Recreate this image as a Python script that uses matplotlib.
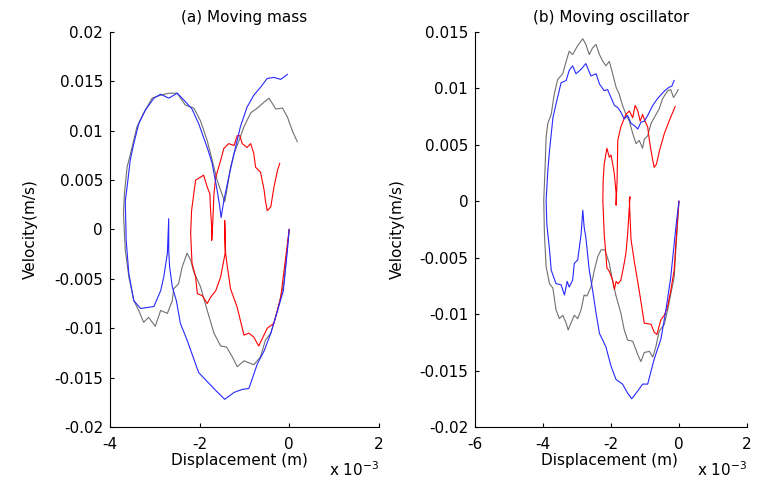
import matplotlib
matplotlib.use('Agg')
import matplotlib.pyplot as plt
import numpy as np

plt.rcParams['font.family'] = ['DejaVu Sans']
plt.rcParams['axes.unicode_minus'] = False

# displacement in 1e-3 m, velocity in 1e-3 m/s
# (a) moving mass
a_blue_x = [0, -0.04, -0.13, -0.26, -0.41, -0.56, -0.71, -0.90, -1.05, -1.23, -1.44, -1.64, -1.83, -2.02,
            -2.17, -2.28, -2.43, -2.52, -2.61, -2.67, -2.69, -2.69, -2.72, -2.80, -2.87, -3.02, -3.32, -3.47,
            -3.58, -3.64, -3.66, -3.62, -3.55, -3.47, -3.36, -3.21, -3.02, -2.87, -2.69, -2.50, -2.35, -2.17,
            -2.02, -1.83, -1.72, -1.61, -1.55, -1.52, -1.46, -1.35, -1.23, -1.09, -0.94, -0.79, -0.64, -0.49,
            -0.34, -0.19, -0.04]
a_blue_v = [0, -2.1, -6.2, -8.2, -10.5, -12.3, -13.6, -16.1, -16.2, -16.5, -17.2, -16.3, -15.4, -14.5,
            -12.6, -11.2, -9.5, -7.2, -5.8, -3.8, -2.1, 1.1, -2.4, -4.8, -6.2, -7.8, -8.0, -7.2,
            -4.5, -1.1, 2.9, 4.3, 7.0, 8.7, 10.7, 12.1, 13.3, 13.7, 13.3, 13.8, 13.1, 12.2,
            10.7, 8.3, 6.7, 4.0, 2.3, 1.2, 2.9, 5.3, 7.7, 10.4, 12.4, 13.6, 14.4, 15.3,
            15.4, 15.2, 15.7]

a_gray_x = [0, -0.12, -0.26, -0.41, -0.53, -0.64, -0.79, -1.01, -1.16, -1.27, -1.40, -1.53, -1.68, -1.83,
            -1.98, -2.13, -2.20, -2.28, -2.39, -2.47, -2.58, -2.61, -2.72, -2.87, -2.99, -3.14, -3.25, -3.36,
            -3.47, -3.58, -3.66, -3.70, -3.68, -3.62, -3.51, -3.40, -3.25, -3.06, -2.87, -2.69, -2.50, -2.32,
            -2.13, -1.98, -1.83, -1.68, -1.61, -1.44, -1.38, -1.31, -1.23, -1.12, -1.01, -0.86, -0.71, -0.56,
            -0.45, -0.30, -0.15, -0.04, 0.07, 0.18]
a_gray_v = [0, -5.5, -8.2, -10.5, -11.2, -12.9, -13.7, -13.3, -13.9, -12.9, -11.9, -11.8, -10.5, -8.2,
            -5.8, -4.3, -3.1, -2.4, -3.8, -5.5, -6.0, -7.2, -8.5, -8.2, -9.8, -8.9, -9.4, -8.2,
            -7.2, -4.8, -2.1, 1.6, 3.6, 6.3, 8.3, 10.4, 11.8, 13.3, 13.6, 13.8, 13.8, 12.6,
            12.3, 11.0, 9.0, 6.3, 5.0, 2.8, 4.3, 6.3, 7.7, 9.0, 10.4, 11.8, 12.3, 12.9,
            13.3, 12.2, 12.3, 11.4, 10.0, 8.9]

a_red_x = [0, -0.19, -0.34, -0.49, -0.68, -0.79, -0.90, -1.01, -1.16, -1.31, -1.38, -1.42, -1.44, -1.43,
           -1.53, -1.64, -1.76, -1.83, -1.94, -2.05, -2.09, -2.17, -2.20, -2.18, -2.09, -1.98, -1.91, -1.83,
           -1.77, -1.76, -1.73, -1.73, -1.71, -1.68, -1.64, -1.53, -1.46, -1.35, -1.23, -1.16, -1.10, -1.05,
           -0.94, -0.86, -0.79, -0.75, -0.64, -0.56, -0.53, -0.49, -0.41, -0.34, -0.26, -0.21]
a_red_v = [0, -6.9, -9.5, -10.0, -11.8, -10.9, -10.5, -10.7, -7.9, -6.0, -3.8, -2.4, 0.9, -2.4,
           -4.8, -6.2, -6.9, -7.5, -6.7, -6.5, -4.8, -3.4, -0.4, 1.9, 5.0, 5.3, 5.5, 4.3,
           3.6, 2.3, 0.2, -1.1, 0.4, 3.6, 5.3, 7.0, 8.2, 8.7, 8.5, 9.5, 9.5, 8.7,
           8.3, 8.7, 7.7, 6.3, 5.8, 4.0, 2.9, 1.9, 2.3, 4.3, 6.0, 6.7]

# (b) moving oscillator
b_blue_x = [0, -0.09, -0.24, -0.38, -0.53, -0.73, -0.92, -1.07, -1.21, -1.39, -1.51, -1.66, -1.85, -2.00,
            -2.15, -2.34, -2.44, -2.54, -2.64, -2.74, -2.79, -2.83, -2.88, -2.98, -3.08, -3.13, -3.23, -3.29,
            -3.37, -3.47, -3.62, -3.76, -3.81, -3.89, -3.91, -3.86, -3.81, -3.71, -3.62, -3.47, -3.32, -3.23,
            -3.13, -3.03, -2.88, -2.74, -2.59, -2.44, -2.34, -2.20, -2.10, -2.00, -1.90, -1.80, -1.71, -1.61,
            -1.51, -1.41, -1.31, -1.21, -1.12, -1.02, -0.92, -0.77, -0.63, -0.48, -0.38, -0.29, -0.21, -0.14]
b_blue_v = [0, -2.3, -6.7, -9.6, -12.2, -14.0, -16.2, -16.2, -16.8, -17.5, -17.0, -16.2, -15.8, -14.6,
            -12.9, -11.7, -9.9, -7.9, -6.1, -3.2, -2.3, -0.8, -2.9, -5.2, -5.5, -7.0, -7.6, -7.1,
            -8.3, -7.4, -7.3, -6.1, -4.3, -2.0, 0.1, 2.7, 4.5, 7.4, 8.6, 10.5, 10.7, 11.6,
            12.0, 11.3, 11.7, 12.2, 11.1, 11.3, 10.4, 9.8, 9.9, 9.2, 8.5, 8.3, 7.9, 7.3,
            7.6, 6.9, 6.7, 6.4, 7.0, 7.1, 7.6, 8.5, 9.1, 9.6, 9.9, 10.1, 10.2, 10.7]

b_gray_x = [0, -0.14, -0.33, -0.43, -0.58, -0.68, -0.77, -0.87, -1.02, -1.12, -1.21, -1.36, -1.51, -1.61,
            -1.71, -1.85, -1.95, -2.05, -2.18, -2.29, -2.39, -2.49, -2.59, -2.71, -2.79, -2.88, -2.98, -3.08,
            -3.18, -3.26, -3.32, -3.42, -3.52, -3.62, -3.71, -3.81, -3.91, -3.96, -3.98, -3.94, -3.91, -3.86,
            -3.76, -3.67, -3.57, -3.42, -3.32, -3.23, -3.13, -2.98, -2.83, -2.74, -2.64, -2.54, -2.44, -2.34,
            -2.24, -2.15, -2.05, -1.95, -1.85, -1.76, -1.66, -1.56, -1.46, -1.36, -1.26, -1.17, -1.07, -1.02,
            -0.92, -0.82, -0.73, -0.58, -0.48, -0.33, -0.24, -0.16, -0.09, -0.02]
b_gray_v = [0, -6.7, -9.6, -10.9, -11.5, -12.9, -13.8, -13.3, -13.4, -14.2, -13.6, -12.4, -12.3, -11.4,
            -9.9, -8.4, -7.1, -5.5, -4.3, -4.3, -4.9, -6.1, -7.6, -8.4, -8.3, -9.6, -10.4, -10.1,
            -10.8, -11.4, -10.8, -10.1, -10.4, -9.6, -7.7, -7.3, -5.8, -2.9, 0.1, 3.0, 5.7, 6.9,
            7.7, 9.5, 10.8, 11.3, 12.4, 13.3, 13.0, 13.8, 14.4, 13.9, 13.0, 13.6, 13.9, 13.0,
            12.4, 12.0, 12.4, 11.3, 10.1, 9.5, 8.5, 7.7, 7.1, 6.0, 5.1, 5.4, 4.7, 5.5,
            5.8, 6.9, 7.4, 8.2, 9.1, 9.8, 9.9, 9.2, 9.5, 9.9]

b_red_x = [0, -0.09, -0.14, -0.24, -0.33, -0.43, -0.53, -0.65, -0.73, -0.82, -1.02, -1.17, -1.31, -1.41,
           -1.46, -1.44, -1.51, -1.56, -1.63, -1.71, -1.79, -1.85, -1.90, -1.95, -2.05, -2.12, -2.20, -2.24,
           -2.23, -2.20, -2.12, -2.05, -2.00, -1.95, -1.90, -1.85, -1.85, -1.82, -1.80, -1.71, -1.56, -1.46,
           -1.36, -1.29, -1.21, -1.14, -1.07, -1.00, -0.92, -0.87, -0.80, -0.73, -0.66, -0.58, -0.43, -0.29,
           -0.11]
b_red_v = [0, -3.7, -6.1, -7.9, -9.3, -10.1, -10.5, -11.8, -11.6, -10.9, -10.8, -7.9, -5.4, -3.4,
           0.1, 0.4, -2.9, -4.6, -5.8, -7.0, -7.3, -7.1, -7.8, -7.0, -6.2, -5.9, -2.9, 0.1,
           1.9, 3.3, 4.7, 3.9, 4.1, 3.3, 2.4, 0.7, -0.35, 1.9, 5.4, 6.6, 7.7, 8.0,
           7.4, 8.5, 8.0, 7.1, 7.7, 7.1, 6.6, 5.4, 4.1, 3.0, 3.3, 4.4, 6.0, 7.1,
           8.4]

vel_ticks_a = [-0.02, -0.015, -0.01, -0.005, 0, 0.005, 0.01, 0.015, 0.02]
vel_ticks_b = [-0.02, -0.015, -0.01, -0.005, 0, 0.005, 0.01, 0.015]

fig = plt.figure(figsize=(7.59, 4.79), dpi=100)
ax1 = fig.add_axes([0.145, 0.1086, 0.354, 0.8246])
ax2 = fig.add_axes([0.626, 0.1086, 0.358, 0.8246])

panels = [
    (ax1, a_gray_x, a_gray_v, a_red_x, a_red_v, a_blue_x, a_blue_v, '(a) Moving mass',
     (-4, 2), (-0.02, 0.02), [-4, -2, 0, 2], vel_ticks_a),
    (ax2, b_gray_x, b_gray_v, b_red_x, b_red_v, b_blue_x, b_blue_v, '(b) Moving oscillator',
     (-6, 2), (-0.02, 0.015), [-6, -4, -2, 0, 2], vel_ticks_b),
]

fs = 11
for ax, gx, gv, rx, rv, bx, bv, title, xl, yl, xt, yt in panels:
    ax.plot(gx, np.array(gv) * 1e-3, color='#707070', lw=0.8)
    ax.plot(rx, np.array(rv) * 1e-3, color='#ff0000', lw=0.8)
    ax.plot(bx, np.array(bv) * 1e-3, color='#2828ff', lw=0.8)
    ax.set_xlim(*xl)
    ax.set_ylim(*yl)
    ax.set_xticks(xt)
    ax.set_xticklabels([f'{t:g}' for t in xt])
    ax.set_yticks(yt)
    ax.set_yticklabels([f'{t:g}' for t in yt])
    ax.spines['top'].set_visible(False)
    ax.spines['right'].set_visible(False)
    ax.spines['left'].set_linewidth(0.8)
    ax.spines['bottom'].set_linewidth(0.8)
    ax.tick_params(axis='x', direction='in', length=3, width=0.8, labelsize=fs, pad=7)
    ax.tick_params(axis='y', direction='in', length=3, width=0.8, labelsize=fs, pad=5)
    ax.set_title(title, fontsize=fs, pad=7)
    ax.set_ylabel('Velocity(m/s)', fontsize=fs)
    ax.set_xlabel('Displacement (m)', fontsize=fs)
    ax.text(0.815, -0.108, r'x 10$^{-3}$', transform=ax.transAxes, fontsize=fs,
            ha='left', va='center')

ax1.yaxis.set_label_coords(-0.268, 0.5)
ax2.yaxis.set_label_coords(-0.257, 0.5)
ax1.xaxis.set_label_coords(0.483, -0.066)
ax2.xaxis.set_label_coords(0.496, -0.066)

fig.savefig('out.png', dpi=100)
